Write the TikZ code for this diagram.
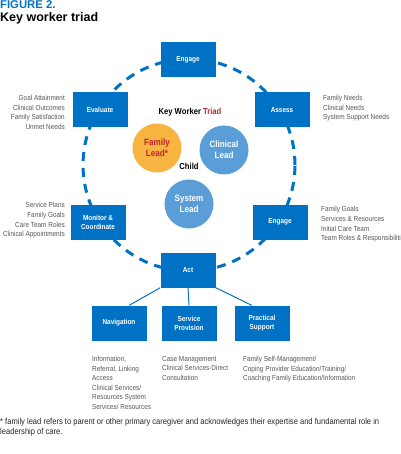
\documentclass[tikz,border=0pt]{standalone}
\usepackage{fontspec}
\setmainfont{Liberation Sans}[FakeStretch=0.88]
\newfontfamily\titlefont{Liberation Sans}
\usepackage{tikz}
\usetikzlibrary{positioning}
\definecolor{keyblue}{RGB}{0,114,198}
\definecolor{leadblue}{RGB}{91,157,215}
\definecolor{leadorange}{RGB}{248,180,64}
\definecolor{triadred}{RGB}{190,35,45}
\definecolor{notegray}{RGB}{85,85,85}

\begin{document}
\begin{tikzpicture}[x=1pt, y=-1pt, every node/.style={inner sep=1pt},
  stage/.style={fill=keyblue, minimum width=55pt, minimum height=35pt, text=white, font=\fontsize{7.3}{9}\selectfont\bfseries, align=center},
  lead/.style={circle, minimum size=49pt, font=\fontsize{9.2}{11}\selectfont\bfseries, align=center},
  note/.style={font=\fontsize{7.3}{9.6}\selectfont, text=notegray, inner sep=0pt}]
  \useasboundingbox (0,0) rectangle (400,454);
  \node[anchor=north west, inner sep=0pt, font=\titlefont\fontsize{11.3}{12}\selectfont\bfseries, text=keyblue] (fig) at (0,0.5) {FIGURE 2.};
  \node[anchor=north west, inner sep=0pt, font=\titlefont\fontsize{12.5}{12}\selectfont\bfseries] (title) at (0,12.5) {Key worker triad};
  \node[circle, draw=keyblue, line width=3pt, dash pattern=on 9pt off 7pt, minimum size=212pt] (ring) at (189,165) {};
  \node[stage] (engtop) at (188,60) {Engage};
  \node[stage] (eval) at (100,110) {Evaluate};
  \node[stage] (assess) at (282,110) {Assess};
  \node[stage] (monitor) at (98,222) {Monitor \&\\Coordinate};
  \node[stage] (engright) at (280,222) {Engage};
  \node[stage] (act) at (188,270) {Act};
  \node[stage] (nav) at (119,323) {Navigation};
  \node[stage] (serv) at (189,323) {Service\\Provision};
  \node[stage] (prac) at (262,323) {Practical\\Support};
  \draw[keyblue, line width=1pt] (act.south west) -- (nav.60);
  \draw[keyblue, line width=1pt] (act.south) -- (serv.north);
  \draw[keyblue, line width=1pt] (act.south east) -- (prac.120);
  \node[font=\fontsize{8.7}{10}\selectfont\bfseries] (triad) at (190,112) {Key Worker \textcolor{triadred}{Triad}};
  \node[lead, fill=leadorange, text=triadred] (family) at (157,148) {Family\\Lead*};
  \node[lead, fill=leadblue, text=white] (clinical) at (224,150) {Clinical\\Lead};
  \node[lead, fill=leadblue, text=white] (system) at (189,204) {System\\Lead};
  \node[font=\fontsize{8.7}{10}\selectfont\bfseries] (child) at (189,166) {Child};
  \node[note, anchor=north east, align=right] (evalnote) at (65,95) {Goal Attainment\\Clinical Outcomes\\Family Satisfaction\\Unmet Needs};
  \node[note, anchor=north west, align=left] (assessnote) at (323,95) {Family Needs\\Clinical Needs\\System Support Needs};
  \node[note, anchor=north east, align=right] (monitornote) at (65,202.5) {Service Plans\\Family Goals\\Care Team Roles\\Clinical Appointments};
  \node[note, anchor=north west, align=left] (engnote) at (321,206.5) {Family Goals\\Services \& Resources\\Initial Care Team\\Team Roles \& Responsibiliti};
  \node[note, anchor=north west, align=left] (navnote) at (92,356) {Information,\\Referral, Linking\\Access\\Clinical Services/\\Resources System\\Services/ Resources};
  \node[note, anchor=north west, align=left] (servnote) at (162,356) {Case Management\\Clinical Services-Direct\\Consultation};
  \node[note, anchor=north west, align=left] (pracnote) at (243,356) {Family Self-Management/\\Coping Provider Education/Training/\\Coaching Family Education/Information};
  \node[note, anchor=north west, align=left, text=black!85, font=\fontsize{8.6}{10.5}\selectfont] (footnote) at (0,418) {* family lead refers to parent or other primary caregiver and acknowledges their expertise and fundamental role in\\leadership of care.};
\end{tikzpicture}
\end{document}
